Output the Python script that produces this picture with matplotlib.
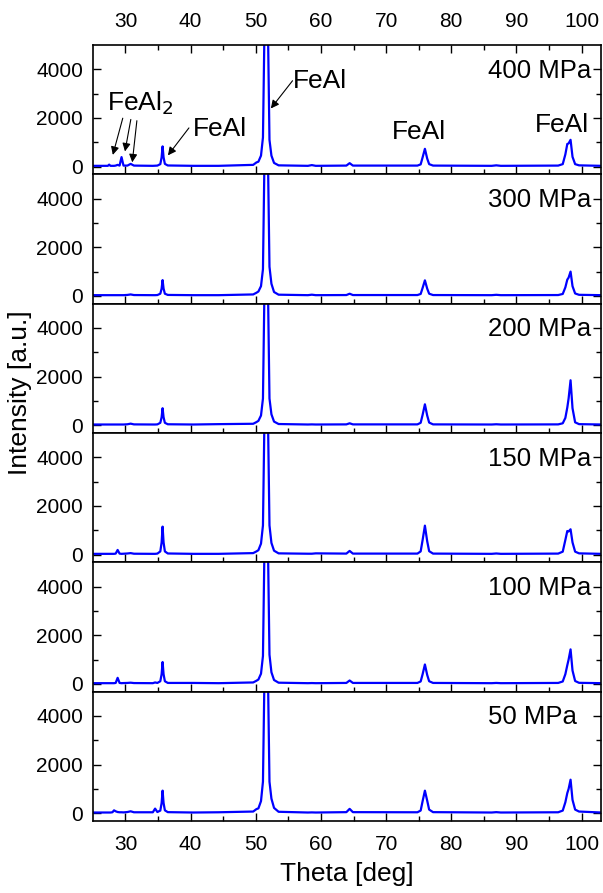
import matplotlib.pyplot as plt

plt.rcParams['font.family'] = ['Liberation Sans', 'DejaVu Sans']

# 2-theta positions shared by all patterns
theta = [25.0, 27.3, 27.5, 27.7, 28.0, 28.25, 28.5, 28.8, 29.1, 29.4,
         29.7, 30.3, 30.8, 31.3, 34.2, 34.55, 34.9, 35.35, 35.55, 35.7,
         35.85, 36.05, 36.5, 40.4, 44.3, 49.6, 50.1, 50.4, 50.8, 51.1,
         51.35, 51.6, 51.85, 52.1, 52.4, 52.8, 53.5, 58.0, 58.6, 59.2,
         63.9, 64.4, 64.9, 74.8, 75.3, 75.6, 75.95, 76.3, 76.6, 77.2,
         86.2, 86.9, 87.6, 96.4, 97.1, 97.5, 97.8, 98.0, 98.3, 98.6,
         99.0, 99.6, 103.0]

i400 = [30, 30, 80, 30, 30, 30, 40, 70, 40, 390,
        40, 40, 110, 40, 30, 35, 40, 100, 380, 830,
        380, 110, 45, 30, 30, 70, 170, 200, 450, 1200,
        6000, 20000, 6000, 1100, 450, 150, 50, 30, 60, 30,
        40, 140, 40, 40, 90, 380, 730, 330, 100, 40,
        30, 50, 30, 40, 100, 500, 930, 950, 1100, 400,
        100, 50, 30]
i300 = [30, 30, 30, 30, 30, 30, 30, 30, 30, 30,
        30, 40, 60, 35, 30, 30, 35, 90, 300, 650,
        300, 90, 40, 30, 30, 60, 130, 180, 400, 1100,
        6000, 20000, 6000, 1200, 500, 160, 50, 30, 50, 30,
        35, 90, 35, 35, 80, 330, 640, 300, 90, 35,
        30, 45, 30, 35, 80, 350, 670, 750, 1000, 400,
        100, 45, 30]
i200 = [30, 30, 30, 30, 30, 30, 30, 30, 30, 30,
        30, 40, 65, 35, 30, 30, 35, 100, 330, 700,
        330, 100, 40, 30, 45, 60, 130, 180, 400, 1100,
        6000, 20000, 6000, 1100, 450, 150, 50, 30, 35, 30,
        35, 80, 35, 35, 100, 430, 860, 400, 110, 35,
        30, 40, 30, 35, 80, 300, 730, 1100, 1850, 700,
        120, 45, 30]
i150 = [30, 30, 30, 30, 30, 30, 40, 190, 40, 30,
        35, 45, 60, 35, 30, 30, 40, 130, 500, 1150,
        500, 130, 45, 30, 30, 60, 130, 180, 450, 1200,
        6000, 20000, 6000, 1200, 480, 160, 50, 35, 35, 50,
        40, 150, 40, 40, 130, 600, 1190, 550, 140, 40,
        30, 45, 30, 40, 120, 600, 970, 950, 1040, 500,
        120, 50, 30]
i100 = [30, 30, 30, 30, 30, 30, 40, 250, 40, 30,
        35, 40, 50, 35, 30, 60, 40, 110, 400, 900,
        400, 110, 40, 40, 30, 60, 130, 180, 420, 1150,
        6000, 20000, 6000, 1200, 480, 160, 50, 30, 35, 30,
        40, 140, 40, 40, 100, 400, 800, 370, 110, 40,
        30, 40, 30, 40, 100, 400, 770, 1000, 1420, 550,
        120, 45, 30]
i50 = [30, 30, 30, 30, 40, 120, 80, 50, 40, 40,
       35, 50, 80, 40, 40, 190, 50, 110, 420, 930,
       420, 120, 45, 30, 40, 70, 170, 200, 500, 1300,
       6000, 20000, 6000, 1300, 600, 220, 60, 30, 35, 30,
       45, 180, 45, 40, 110, 500, 930, 520, 150, 45,
       30, 45, 30, 40, 110, 450, 830, 1000, 1380, 550,
       150, 70, 30]

pressures = ['400 MPa', '300 MPa', '200 MPa', '150 MPa', '100 MPa', '50 MPa']
patterns = [i400, i300, i200, i150, i100, i50]

fig, axes = plt.subplots(6, 1, figsize=(6.03, 8.93), dpi=100, sharex=True)
fig.subplots_adjust(left=0.154, right=0.997, top=0.9496, bottom=0.0806, hspace=0)

for ax, label, inten in zip(axes, pressures, patterns):
    ax.plot(theta, inten, color='#0000ff', lw=1.6)
    ax.set_xlim(25, 103)
    ax.set_ylim(-320, 5000)
    ax.set_yticks([0, 2000, 4000])
    ax.set_yticks([1000, 3000], minor=True)
    ax.set_xticks(range(30, 101, 10))
    ax.set_xticks(range(35, 101, 10), minor=True)
    ax.tick_params(which='both', direction='in', right=True, labelsize=15, width=1)
    ax.tick_params(which='major', length=6)
    ax.tick_params(which='minor', length=3.5)
    ax.tick_params(axis='y', pad=7)
    ax.tick_params(axis='x', pad=10)
    for sp in ax.spines.values():
        sp.set_linewidth(1.2)
    ax.text(85.7, 3950, label, fontsize=18.5, ha='left', va='center')

top = axes[0]
top.tick_params(which='both', top=True, labeltop=True)

arrow = dict(arrowstyle='-|>', color='black', lw=0.8, mutation_scale=12)
top.text(27.2, 2600, 'FeAl$_2$', fontsize=19, ha='left', va='center')
top.annotate('', xy=(27.95, 370), xytext=(29.7, 2100), arrowprops=arrow)
top.annotate('', xy=(29.85, 510), xytext=(30.9, 2050), arrowprops=arrow)
top.annotate('', xy=(31.0, 60), xytext=(31.8, 2000), arrowprops=arrow)
top.text(40.3, 1560, 'FeAl', fontsize=19, ha='left', va='center')
top.annotate('', xy=(36.26, 370), xytext=(40.0, 1680), arrowprops=arrow)
top.text(55.7, 3500, 'FeAl', fontsize=19, ha='left', va='center')
top.annotate('', xy=(52.05, 2300), xytext=(55.9, 3620), arrowprops=arrow)
top.text(75.0, 1440, 'FeAl', fontsize=19, ha='center', va='center')
top.text(97.05, 1690, 'FeAl', fontsize=19, ha='center', va='center')

axes[-1].set_xlabel('Theta [deg]', fontsize=19, labelpad=6)
fig.text(0.033, 0.56, 'Intensity [a.u.]', fontsize=19, rotation=90, ha='center', va='center')

fig.savefig('out.png', dpi=100)
